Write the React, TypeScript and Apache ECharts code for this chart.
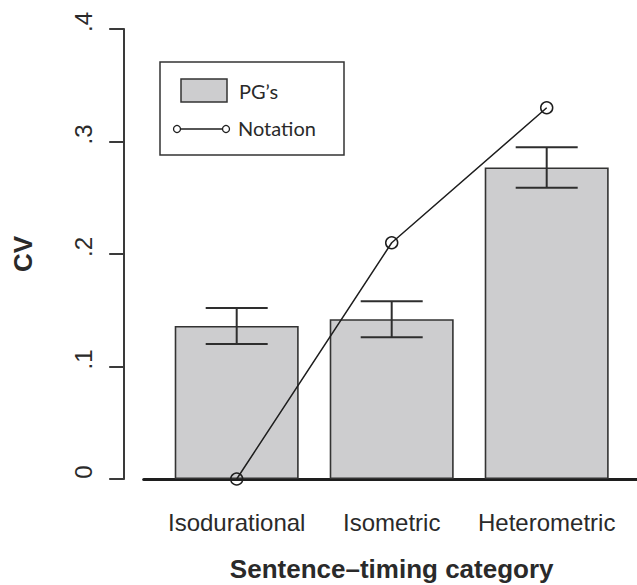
import React, { useEffect, useRef } from "react";
import * as echarts from "echarts";

const categories = ["Isodurational", "Isometric", "Heterometric"];
const pgValues = [0.136, 0.142, 0.277];
const pgLow = [0.12, 0.126, 0.259];
const pgHigh = [0.152, 0.158, 0.295];
const notationValues = [0, 0.21, 0.33];
const yTicks = [0, 0.1, 0.2, 0.3, 0.4];
const yTickLabels = ["0", ".1", ".2", ".3", ".4"];

const FONT = "'Liberation Sans', Arial, Helvetica, sans-serif";
const LEG_FONT = "Lato, 'Open Sans', sans-serif";
const BAR_FILL = "#cdcdcf";
const DARK = "#2a2a2a";

export default function App() {
  const ref = useRef<HTMLDivElement>(null);
  useEffect(() => {
    if (!ref.current) return;
    const chart = echarts.init(ref.current, null, { renderer: "svg" });
    const errData = categories.map((_, i) => [i, pgLow[i], pgHigh[i]]);
    chart.setOption({
      animation: false,
      backgroundColor: "#ffffff",
      grid: [
        { left: 159.2, right: 12.8, top: 29, bottom: 106, outerBoundsMode: "none", containLabel: false },
        { left: 143.7, right: 0, top: 29, bottom: 106, outerBoundsMode: "none", containLabel: false },
      ],
      xAxis: [
        {
          type: "category",
          gridIndex: 0,
          data: categories,
          axisLine: { show: false },
          axisTick: { show: false },
          splitLine: { show: false },
          axisLabel: { fontSize: 24, color: DARK, fontFamily: FONT, margin: 31, interval: 0, hideOverlap: false },
          name: "Sentence–timing category",
          nameLocation: "middle",
          nameGap: 77,
          nameTextStyle: { fontSize: 26, fontWeight: "bold", color: DARK, fontFamily: FONT },
        },
        {
          type: "value",
          gridIndex: 1,
          min: 0,
          max: 1,
          axisLine: { show: true, onZero: false, lineStyle: { color: "#1e1e1e", width: 3 } },
          axisTick: { show: false },
          axisLabel: { show: false },
          splitLine: { show: false },
        },
      ],
      yAxis: [
        {
          type: "value",
          gridIndex: 0,
          min: 0,
          max: 0.4,
          interval: 0.1,
          offset: 35,
          axisLine: { show: true, onZero: false, lineStyle: { color: "#3a3a3a", width: 2 } },
          axisTick: { show: true, length: 15, lineStyle: { color: "#3a3a3a", width: 2 } },
          splitLine: { show: false },
          axisLabel: {
            rotate: 90,
            fontSize: 24,
            color: DARK,
            fontFamily: FONT,
            margin: 29,
            padding: [0, 0, 0, 14],
            formatter: (v: number) => {
              const i = yTicks.findIndex((t) => Math.abs(t - v) < 1e-9);
              return i >= 0 ? yTickLabels[i] : "";
            },
          },
          name: "CV",
          nameLocation: "middle",
          nameGap: 88,
          nameRotate: 90,
          nameTextStyle: { fontSize: 26, fontWeight: "bold", color: DARK, fontFamily: FONT },
        },
        { type: "value", gridIndex: 1, min: 0, max: 0.4, show: false },
      ],
      series: [
        {
          type: "bar",
          name: "PG’s",
          xAxisIndex: 0,
          yAxisIndex: 0,
          data: pgValues,
          barWidth: "80%",
          itemStyle: { color: BAR_FILL, borderColor: "#333", borderWidth: 1.6 },
          z: 2,
        },
        {
          type: "custom",
          name: "err",
          xAxisIndex: 0,
          yAxisIndex: 0,
          data: errData,
          z: 3,
          renderItem: (params: any, api: any) => {
            const x = api.value(0);
            const lo = api.coord([x, api.value(1)]);
            const hi = api.coord([x, api.value(2)]);
            const half = api.size([1, 0])[0] * 0.2;
            const style = { stroke: "#2e2e2e", lineWidth: 2 };
            return {
              type: "group",
              children: [
                { type: "line", shape: { x1: hi[0], y1: hi[1], x2: lo[0], y2: lo[1] }, style },
                { type: "line", shape: { x1: hi[0] - half, y1: hi[1], x2: hi[0] + half, y2: hi[1] }, style },
                { type: "line", shape: { x1: lo[0] - half, y1: lo[1], x2: lo[0] + half, y2: lo[1] }, style },
              ],
            };
          },
        },
        {
          type: "line",
          name: "Notation",
          xAxisIndex: 0,
          yAxisIndex: 0,
          data: notationValues,
          symbol: "circle",
          symbolSize: 12,
          lineStyle: { color: "#1e1e1e", width: 1.5 },
          itemStyle: { color: "rgba(0,0,0,0)", borderColor: "#1e1e1e", borderWidth: 1.5 },
          z: 5,
        },
      ],
      graphic: [
        {
          type: "group",
          z: 10,
          children: [
            { type: "rect", shape: { x: 160, y: 62, width: 184, height: 93 }, style: { fill: "#fff", stroke: "#333", lineWidth: 1.5 } },
            { type: "rect", shape: { x: 181, y: 79, width: 46, height: 23 }, style: { fill: BAR_FILL, stroke: "#333", lineWidth: 1.5 } },
            { type: "text", x: 239, y: 91, style: { text: "PG’s", font: `20px ${LEG_FONT}`, fill: DARK, verticalAlign: "middle" } },
            { type: "line", shape: { x1: 177, y1: 129, x2: 226, y2: 129 }, style: { stroke: "#1e1e1e", lineWidth: 1.5 } },
            { type: "circle", shape: { cx: 177, cy: 129, r: 3.5 }, style: { fill: "#fff", stroke: "#1e1e1e", lineWidth: 1.3 } },
            { type: "circle", shape: { cx: 226, cy: 129, r: 3.5 }, style: { fill: "#fff", stroke: "#1e1e1e", lineWidth: 1.3 } },
            { type: "text", x: 238, y: 128, style: { text: "Notation", font: `20px ${LEG_FONT}`, fill: DARK, verticalAlign: "middle" } },
          ],
        },
      ],
    });
    return () => chart.dispose();
  }, []);
  return (
    <div
      ref={ref}
      style={{ position: "fixed", left: 0, top: 0, width: 637, height: 585, background: "#fff" }}
    />
  );
}
